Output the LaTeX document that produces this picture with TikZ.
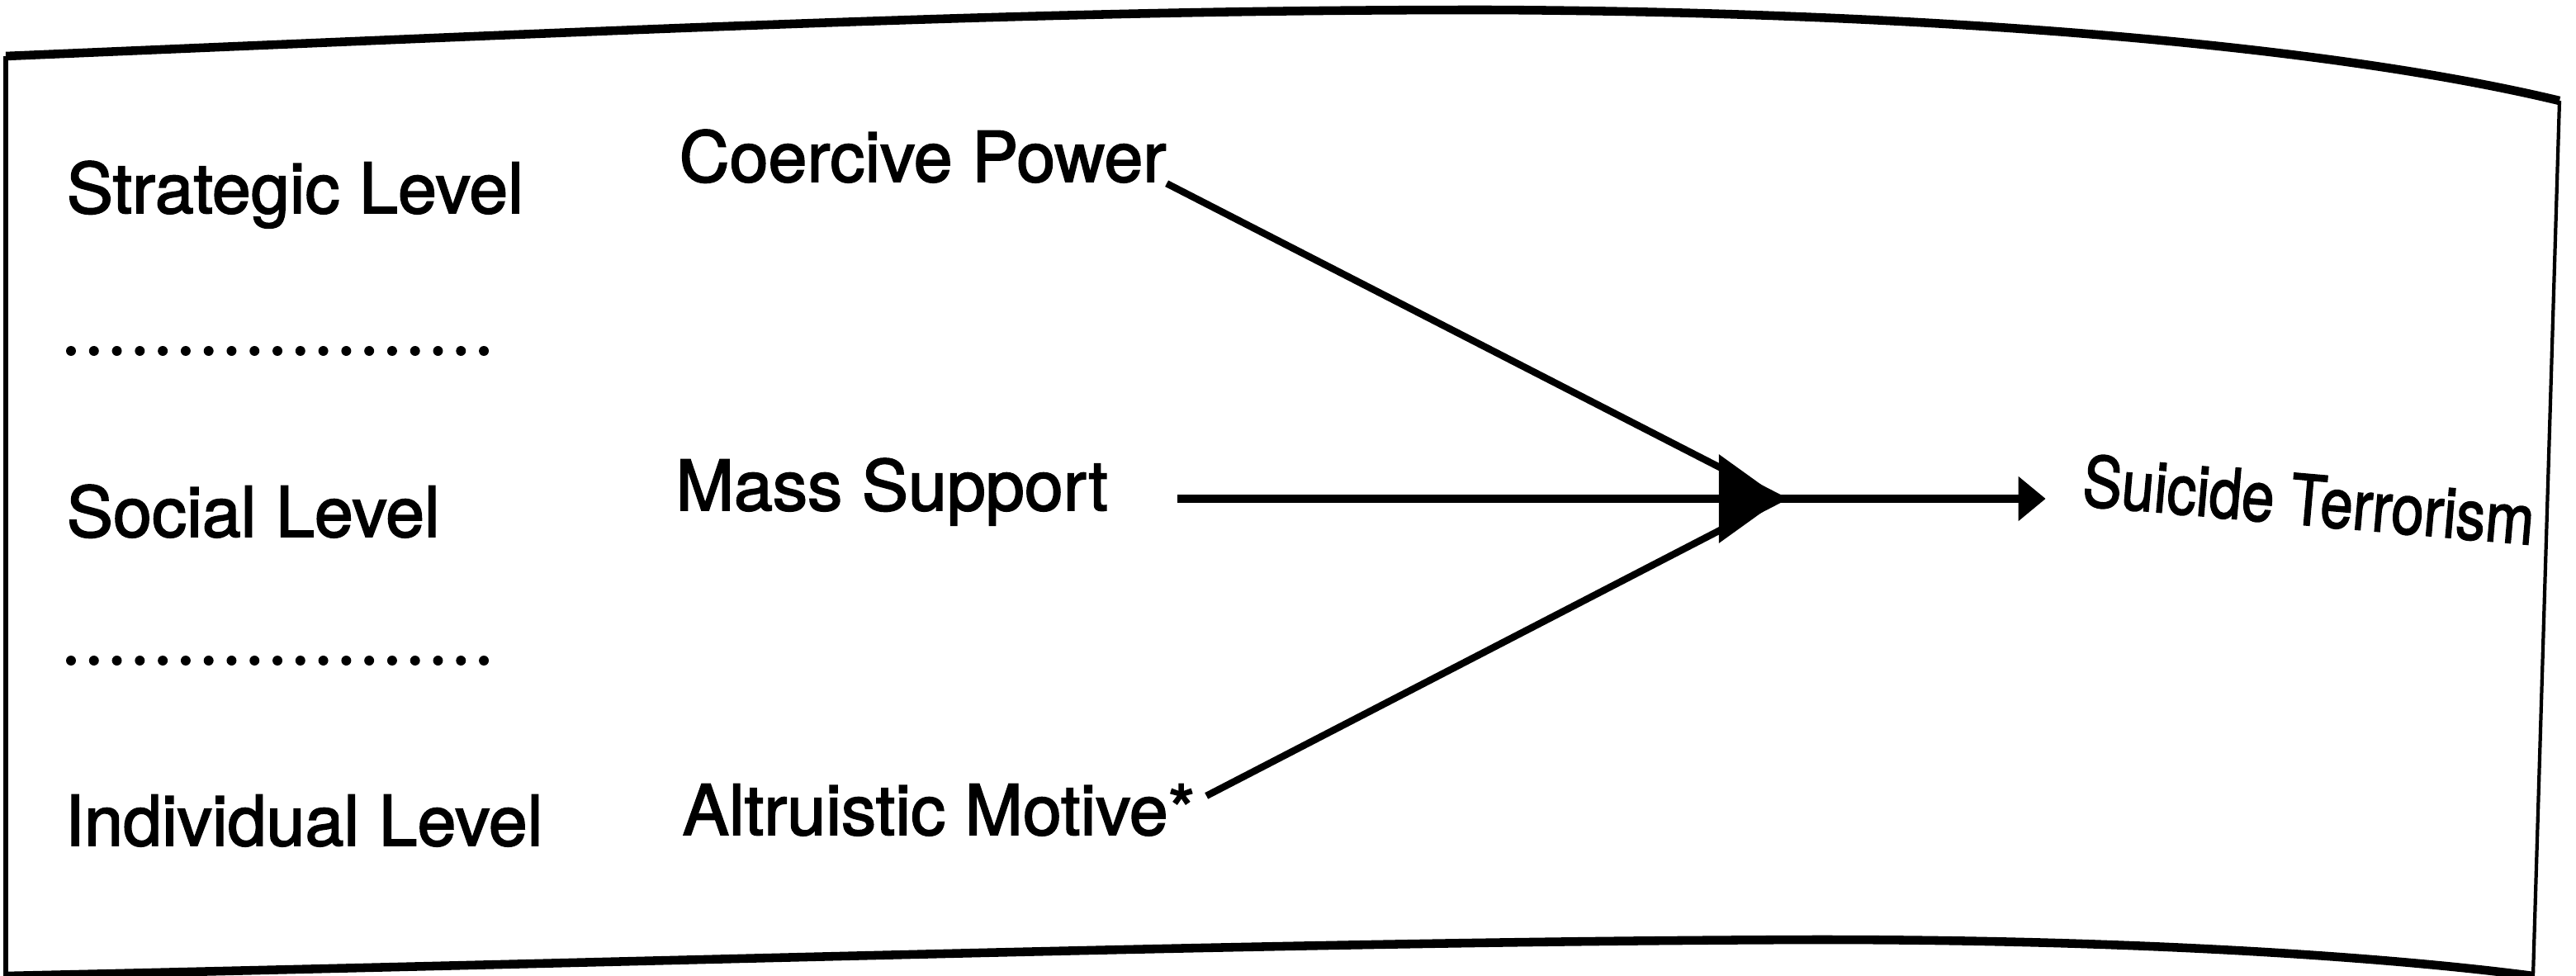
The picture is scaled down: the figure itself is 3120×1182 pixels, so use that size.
\documentclass[tikz,border=0pt]{standalone}
\usepackage{fontspec}
\setmainfont{TeX Gyre Heros}[FakeBold=2]
\usetikzlibrary{arrows.meta}

\begin{document}
\begin{tikzpicture}[x=0.01cm, y=-0.01cm,
    lbl/.style={anchor=base west, inner sep=0, font=\fontsize{24}{28}\selectfont},
    levelsep/.style={line width=3.4pt, dash pattern=on 0pt off 7.9pt, line cap=round},
    link/.style={line width=2.4pt}]
  \useasboundingbox (0, 0) rectangle (3120, 1182);

  % frame
  \draw[line width=3pt] (7, 68) .. controls (900, 30) and (1300, 12) .. (1800, 12)
    .. controls (2300, 14) and (2800, 50) .. (3100, 122);
  \draw[line width=3pt] (7, 1182) .. controls (1000, 1160) and (1600, 1140) .. (2200, 1138)
    .. controls (2600, 1138) and (2900, 1160) .. (3068, 1182);
  \draw[line width=1.8pt] (7, 68) -- (7, 1182);
  \draw[line width=1.2pt] (3100, 122) -- (3068, 1182);

  % levels
  \node[lbl] (strategic) at (80, 258) {Strategic Level};
  \draw[levelsep] (86, 425) -- (612, 425);
  \node[lbl] (social) at (80, 650) {Social Level};
  \draw[levelsep] (86, 800) -- (600, 800);
  \node[lbl] (individual) at (78, 1024) {Individual Level};

  % causes
  \node[lbl] (coercive) at (822, 220) {Coercive Power};
  \node[lbl] (mass) at (818, 618) {Mass Support};
  \node[lbl] (altruistic) at (826, 1011) {Altruistic Motive*};

  % outcome
  \coordinate (hub) at (2157, 604);
  \node[lbl, rotate=-5] (suicide) at (2520, 612) {\scalebox{0.84}[1]{Suicide Terrorism}};

  % arrows into the hub
  \draw[link] (coercive.south east) -- (hub);
  \draw[link] ([xshift=0.13cm, yshift=0.17cm]altruistic.east) -- (hub);
  \draw[line width=3pt, shorten <=0.83cm, -{Triangle[length=0.75cm, width=1.05cm]}] (mass.east |- hub) -- (hub);

  % hub to suicide terrorism
  \draw[line width=2.6pt, shorten >=0.45cm, -{Triangle[length=0.33cm, width=0.52cm]}] (hub) -- (suicide.west |- hub);
\end{tikzpicture}
\end{document}
